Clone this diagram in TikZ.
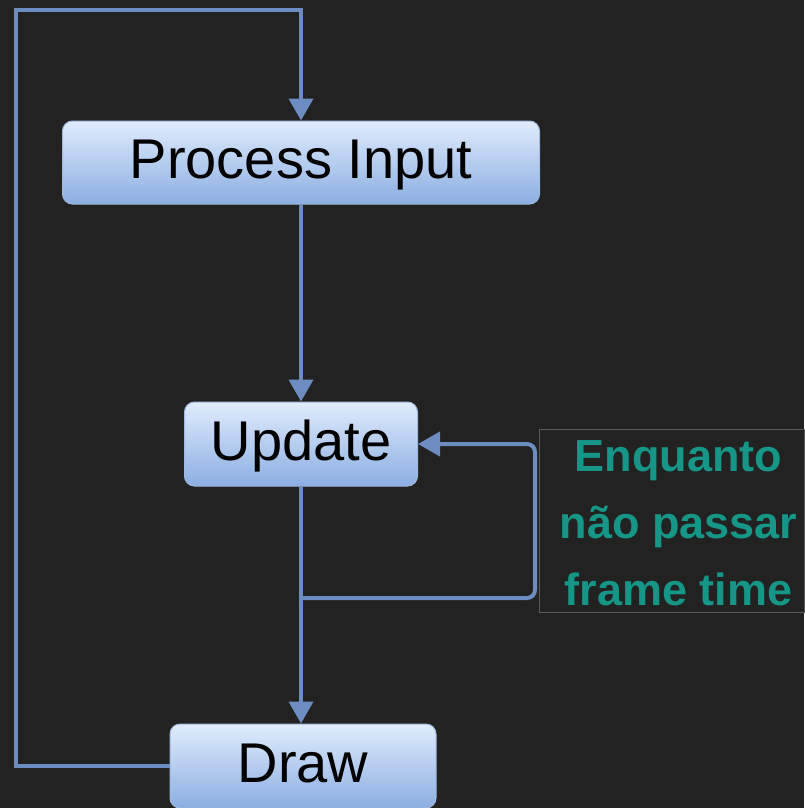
\documentclass[tikz,border=0pt]{standalone}
\usepackage{fontspec}
\setmainfont{Liberation Sans}
\usepackage{tikz}
\usetikzlibrary{arrows.meta, positioning, calc}
\definecolor{bgDark}{RGB}{34,34,34}
\definecolor{linkBlue}{RGB}{108,140,194}
\definecolor{boxTop}{RGB}{224,236,252}
\definecolor{boxBottom}{RGB}{139,174,226}
\definecolor{boxEdge}{RGB}{160,185,222}
\definecolor{noteTeal}{RGB}{22,150,134}
\definecolor{noteEdge}{RGB}{90,90,90}

\tikzset{
    stepbox/.style={draw=boxEdge, line width=1pt, rounded corners=10pt,
        top color=boxTop, bottom color=boxBottom,
        font=\fontsize{56}{60}\selectfont, text=black, inner sep=0pt,
        text height=38pt, text depth=6pt},
    link/.style={draw=linkBlue, line width=4pt,
        -{Triangle[width=24pt, length=22pt]}},
}

\begin{document}
\begin{tikzpicture}[x=1pt, y=-1pt]
    \fill[bgDark] (0,0) rectangle (804,808);
    \useasboundingbox (0,0) rectangle (804,808);

    \node[stepbox, minimum width=477pt, minimum height=83pt] (proc) at (301,162.5) {Process Input};
    \node[stepbox, minimum width=233pt, minimum height=84pt] (upd) at (301,444) {Update};
    \node[stepbox, minimum width=266pt, minimum height=84pt] (drw) at (303,766) {Draw};

    \node[draw=noteEdge, line width=0.8pt, minimum width=265pt, minimum height=183pt] (note) at (671.5,520.5) {};
    \node[align=center, text=noteTeal, inner sep=0pt,
        font=\bfseries\fontsize{45}{67}\selectfont] (noteText) at ($(note.center)+(7,3)$)
        {Enquanto\\não passar\\frame time};

    \coordinate (split) at (301,598);
    \coordinate (turn) at ($(upd.east)+(117,0)$);

    \draw[link] (proc.south) -- (upd.north);
    \draw[link] (upd.south) -- (upd.south |- drw.north);
    \draw[link, rounded corners=8pt] (split) -| (turn) -- (upd.east);
    \draw[link] (drw.west) -| (16,10) -| (proc.north);
\end{tikzpicture}
\end{document}
